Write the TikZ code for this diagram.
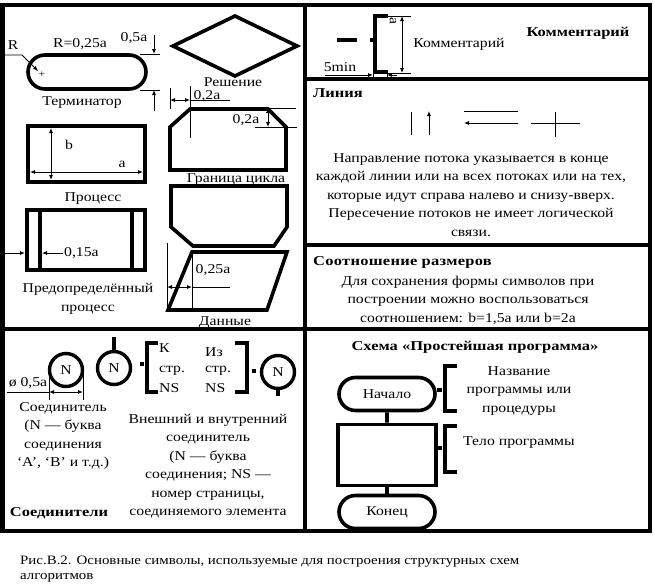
\documentclass[tikz,border=0pt]{standalone}
\usepackage{fontspec}
\setmainfont[FakeStretch=1.165]{Liberation Serif}
\newfontfamily\hdfont[FakeStretch=1.22]{Liberation Serif Bold}
\usetikzlibrary{arrows.meta,shapes.misc}
\newcommand{\myfs}{\fontsize{13.5}{18.5}\selectfont}
\begin{document}
\begin{tikzpicture}[x=1pt,y=-1pt,
  frameline/.style={line width=4.5pt},
  sym/.style={line width=3.6pt,line join=miter},
  heavy/.style={line width=4pt},
  thinline/.style={line width=0.8pt},
  dimtip/.tip={Latex[length=5pt,width=4pt]},
  dimline/.style={thinline,dimtip-dimtip},
  txt/.style={font=\myfs,inner sep=0pt},
  btxt/.style={font=\myfs\hdfont,inner sep=0pt},
  term/.style={rounded rectangle,draw,line width=3.6pt,inner sep=0pt,font=\myfs},
  conn/.style={circle,draw,line width=3.4pt,minimum size=33pt,inner sep=0pt,font=\myfs}
]
\useasboundingbox (0,0) rectangle (654,587);
% frame
\draw[frameline] (2.5,5) rectangle (650,531);
\draw[frameline] (305,5) -- (305,531);
\draw[frameline] (2.5,329) -- (650,329);
\draw[frameline] (305,79) -- (650,79);
\draw[frameline] (305,245) -- (650,245);

% ---------- terminator
\node[term,minimum width=118pt,minimum height=34pt] (terminator) at (87,72) {};
\coordinate (rs) at (2.5,55);
\coordinate (rb) at (22,55);
\coordinate (rc) at (38,71);
\draw[thinline,-dimtip] (rs) -- (rb) -- (rc);
\node[txt] (rlab) at (13,45) {R};
\node[txt,font=\fontsize{10}{12}\selectfont] (plus) at (42,75) {+};
\node[txt] (rval) at (80,44) {R=0,25a};
\node[txt] (hval) at (134,38) {0,5a};
\draw[thinline] (140,54) -- (160,54);
\draw[thinline] (140,90) -- (160,90);
\draw[thinline,-dimtip] (154,35) -- (154,54);
\draw[thinline,-dimtip] (154,111) -- (154,90);
\node[txt] (termlab) at (82,103) {Терминатор};

% ---------- decision
\draw[sym] (173,46) -- (235,16) -- (297,46) -- (235,76) -- cycle;
\node[txt] (declab) at (233,82) {Решение};

% ---------- loop boundary
\draw[sym] (170,170) -- (170,127) -- (190,109) -- (268,109) -- (286,127) -- (286,170) -- cycle;
\draw[thinline] (190,86) -- (190,138);
\draw[thinline] (170,88) -- (170,109);
\draw[dimline] (170,100) -- (190,100);
\draw[thinline] (190,100) -- (230,100);
\node[txt] (lb1) at (207,96) {0,2a};
\draw[thinline] (268,108) -- (296,108);
\draw[thinline] (255,127) -- (297,127);
\draw[dimline] (268,108) -- (268,127);
\node[txt] (lb2) at (246,120) {0,2a};
\node[txt] (looplab) at (236,180) {Граница цикла};
\draw[sym,fill=white] (171,186) -- (287,186) -- (287,227) -- (274,246) -- (193,246) -- (171,227) -- cycle;

% ---------- data
\draw[sym] (192,252) -- (287,252) -- (267,310) -- (168,310) -- cycle;
\draw[thinline] (167,243) -- (167,310);
\draw[thinline] (192,252) -- (192,310);
\draw[dimline] (167,287) -- (192,287);
\draw[thinline] (192,287) -- (230,287);
\node[txt] (datadim) at (213,270) {0,25a};
\node[txt] (datalab) at (225,323) {Данные};

% ---------- process
\draw[sym] (28,126) rectangle (145,182);
\draw[dimline] (51,128) -- (51,180);
\draw[dimline] (30,172) -- (143,172);
\node[txt] (blab) at (69,145) {b};
\node[txt] (alab) at (122,164) {a};
\node[txt] (proclab) at (93,199) {Процесс};

% ---------- predefined process
\draw[sym] (27,210) rectangle (145,270);
\draw[sym] (40,210) -- (40,270);
\draw[sym] (132,210) -- (132,270);
\draw[thinline,-dimtip] (2.5,253) -- (25,253);
\draw[thinline,-dimtip] (63,253) -- (42,253);
\node[txt,anchor=west] (pdim) at (64,253) {0,15a};
\node[txt,align=center] (predlab) at (88,299) {Предопределённый\\процесс};

% ---------- comment
\draw[heavy] (337,40) -- (357,40);
\draw[heavy] (370,40) -- (375,40);
\draw[heavy] (388,16) -- (375,16) -- (375,72) -- (388,72);
\draw[thinline] (388,16) -- (411,16);
\draw[thinline] (388,73) -- (411,73);
\draw[dimline] (402,16) -- (402,73);
\node[txt,rotate=-90] (cdim) at (393,21) {a};
\node[txt] (com1) at (459,44) {Комментарий};
\node[btxt] (com2) at (578,33) {Комментарий};
\node[txt] (fivemin) at (340,67) {5min};
\draw[thinline,-dimtip] (325,75) -- (373,75);
\draw[thinline] (373,72) -- (373,79);
\draw[thinline] (387,72) -- (387,79);
\draw[thinline,-dimtip] (397,75) -- (387,75);

% ---------- line
\node[btxt,anchor=west] (linhead) at (313,93) {Линия};
\draw[thinline] (411,112) -- (411,135);
\draw[thinline,-dimtip] (429,135) -- (429,111);
\draw[thinline] (464,111) -- (518,111);
\draw[thinline,-dimtip] (518,123) -- (464,123);
\draw[thinline] (531,123) -- (580,123);
\draw[thinline] (555,112) -- (555,137);
\node[txt,align=center] (lintext) at (471,195) {Направление потока указывается в конце\\каждой линии или на всех потоках или на тех,\\которые идут справа налево и снизу-вверх.\\Пересечение потоков не имеет логической\\связи.};

% ---------- ratio
\node[btxt,anchor=west] (rathead) at (313,262) {\addfontfeature{LetterSpace=2}Соотношение размеров};
\node[txt,align=center] (rattext) at (468,300) {Для сохранения формы символов при\\построении можно воспользоваться\\соотношением: b=1,5a или b=2a};

% ---------- scheme
\node[btxt] (schhead) at (475,347) {Схема «Простейшая программа»};
\node[term,minimum width=96pt,minimum height=33pt] (start) at (387,394) {Начало};
\node[draw,sym,minimum width=98pt,minimum height=61pt,inner sep=0pt] (body) at (387,455) {};
\node[term,minimum width=96pt,minimum height=33pt] (finish) at (387,512) {Конец};
\draw[sym] (start) -- (body);
\draw[sym] (body) -- (finish);
\draw[heavy] (437,390) -- (442,390);
\draw[heavy] (457,366) -- (445,366) -- (445,411) -- (457,411);
\draw[heavy] (437,448) -- (442,448);
\draw[heavy] (457,426) -- (445,426) -- (445,472) -- (457,472);
\node[txt,align=center] (namelab) at (519,391) {Название\\программы или\\процедуры};
\node[txt] (bodylab) at (519,443) {Тело программы};

% ---------- connectors
\node[conn] (c1) at (66,370) {N};
\node[conn] (c2) at (114,368) {N};
\node[conn] (c3) at (278,372) {N};
\draw[heavy] (c2.north) -- ++(0,-13);
\draw[heavy] (c3.south) -- ++(0,6);
\draw[heavy] (140,364) -- (144,364);
\draw[heavy] (158,343) -- (147,343) -- (147,392) -- (158,392);
\draw[heavy] (235,343) -- (247,343) -- (247,392) -- (235,392);
\draw[heavy] (252,371) -- (256,371);
\node[txt,anchor=west] (k1) at (159,348) {К};
\node[txt,anchor=west] (k2) at (159,371) {стр.};
\node[txt,anchor=west] (k3) at (159,388) {NS};
\node[txt,anchor=west] (i1) at (205,352) {Из};
\node[txt,anchor=west] (i2) at (205,371) {стр.};
\node[txt,anchor=west] (i3) at (205,388) {NS};
\draw[thinline] (49,367) -- (49,400);
\draw[thinline] (83,367) -- (83,400);
\draw[dimline] (49,392) -- (83,392);
\draw[thinline] (7,392) -- (49,392);
\node[txt] (diam) at (28,383) {ø 0,5a};
\node[txt,align=center] (c1lab) at (63,436) {Соединитель\\(N — буква\\соединения\\‘A’, ‘B’ и т.д.)};
\node[txt,align=center] (c2lab) at (208,466) {Внешний и внутренний\\соединитель\\(N — буква\\соединения; NS —\\номер страницы,\\соединяемого элемента};
\node[btxt] (connhead) at (59,513) {Соединители};

% ---------- caption
\node[txt,anchor=west,font=\fontsize{12.8}{15}\selectfont] (cap1) at (20,562) {Рис.В.2. Основные символы, используемые для построения структурных схем};
\node[txt,anchor=west,font=\fontsize{12.8}{15}\selectfont] (cap2) at (20,578) {алгоритмов};
\end{tikzpicture}
\end{document}
